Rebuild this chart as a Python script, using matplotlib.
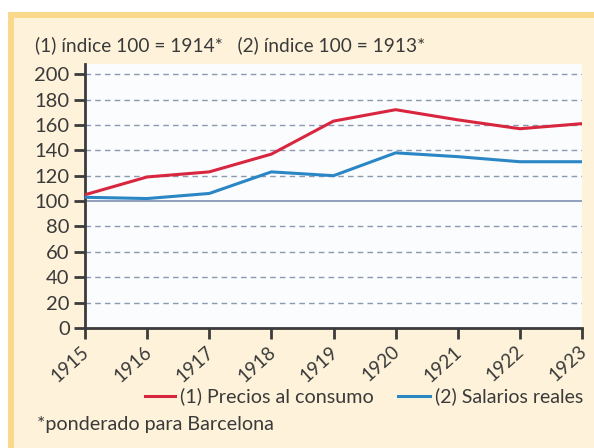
import matplotlib
matplotlib.use('Agg')
import matplotlib.pyplot as plt
import matplotlib.transforms as mtransforms
from matplotlib.patches import Rectangle
from matplotlib.lines import Line2D

# Data
years = [1915, 1916, 1917, 1918, 1919, 1920, 1921, 1922, 1923]
precios = [105, 119, 123, 137, 163, 172, 164, 157, 161]
salarios = [103, 102, 106, 123, 120, 138, 135, 131, 131]
y_ticks = [0, 20, 40, 60, 80, 100, 120, 140, 160, 180, 200]

title_text = '(1) índice 100 = 1914*   (2) índice 100 = 1913*'
legend_labels = ['(1) Precios al consumo', '(2) Salarios reales']
footnote = '*ponderado para Barcelona'

plt.rcParams['font.family'] = ['Lato', 'DejaVu Sans']
text_color = '#3a3a3a'
red = '#d9263f'
blue = '#2a86c4'

W, H = 594, 448
fig = plt.figure(figsize=(W / 100, H / 100), dpi=100)
fig.patch.set_facecolor('white')

# Cream panel with yellow top and left border
fig.patches.append(Rectangle((8 / W, 0), 1 - 8 / W, 1 - 12 / H,
                             transform=fig.transFigure, facecolor='#fef3da',
                             edgecolor='none', zorder=-5))
fig.patches.append(Rectangle((8 / W, 1 - 18 / H), 1 - 8 / W, 6 / H,
                             transform=fig.transFigure, facecolor='#fbd98c',
                             edgecolor='none', zorder=-5))
fig.patches.append(Rectangle((8 / W, 0), 6 / W, 1 - 12 / H,
                             transform=fig.transFigure, facecolor='#fbd98c',
                             edgecolor='none', zorder=-5))

ax = fig.add_axes([85 / W, 1 - 328 / H, (582 - 85) / W, (328 - 64) / H])
ax.set_zorder(2)
ax.set_facecolor('#fbfcfe')

for v in y_ticks[1:]:
    if v == 100:
        ax.axhline(v, color='#7f8fb0', lw=1.2, zorder=1)
    else:
        ax.axhline(v, color='#8a9ab0', lw=1.0, ls=(0, (4, 3)), zorder=1)

ax.plot(years, precios, color=red, lw=2.2, zorder=3)
ax.plot(years, salarios, color=blue, lw=2.2, zorder=3)

ax.set_xlim(years[0], years[-1])
ax.set_ylim(0, 208)
ax.set_yticks(y_ticks)
ax.set_xticks(years)
ax.set_xticklabels([str(y) for y in years], rotation=42, ha='right',
                   va='top', rotation_mode='anchor', fontsize=13.5)

ax.spines['top'].set_visible(False)
ax.spines['right'].set_visible(False)
for side in ['left', 'bottom']:
    ax.spines[side].set_color('#3c3c3c')
    ax.spines[side].set_linewidth(2)

ax.tick_params(axis='both', colors='#3c3c3c', labelcolor=text_color,
               width=2, length=8)
ax.tick_params(axis='y', pad=3, labelsize=14.5)
ax.tick_params(axis='x', pad=2)

# shift rotated year labels so their end sits just right of each tick
offset = mtransforms.ScaledTranslation(-4 / 100, -1 / 100, fig.dpi_scale_trans)
for lab in ax.get_xticklabels():
    lab.set_transform(lab.get_transform() + offset)

fig.text(35 / W, 1 - 45 / H, title_text, fontsize=13.8, color=text_color,
         va='center', ha='left')

# Legend
leg_y = 1 - 396 / H
fig.add_artist(Line2D([145 / W, 175 / W], [leg_y, leg_y], color=red, lw=2.2))
fig.text(180 / W, leg_y, legend_labels[0], fontsize=14.2, color=text_color,
         va='center', ha='left')
fig.add_artist(Line2D([398 / W, 430 / W], [leg_y, leg_y], color=blue, lw=2.2))
fig.text(435 / W, leg_y, legend_labels[1], fontsize=14.0, color=text_color,
         va='center', ha='left')

fig.text(37 / W, 1 - 424 / H, footnote, fontsize=14.2, color=text_color,
         va='center', ha='left')

fig.savefig('out.png', dpi=100, facecolor=fig.get_facecolor())
